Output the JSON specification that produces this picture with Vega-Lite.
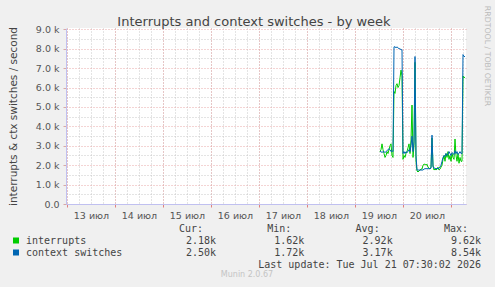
{
  "$schema": "https://vega.github.io/schema/vega-lite/v6.json",
  "background": "#F0F0F0",
  "padding": {"left": 8, "top": 5, "right": 4, "bottom": 9},
  "spacing": 3.5,
  "title": {"text": "RRDTOOL / TOBI OETIKER", "orient": "right", "anchor": "start", "frame": "bounds", "fontSize": 7.8, "fontWeight": "normal", "color": "#BBBBBB", "offset": 2, "dx": -10},
  "config": {
    "font": "DejaVu Sans",
    "view": {"stroke": null},
    "axis": {"labelFont": "DejaVu Sans", "labelFontSize": 9.5, "labelColor": "#555555", "titleFont": "DejaVu Sans", "titleFontWeight": "normal", "titleColor": "#444444"}
  },
  "datasets": {
    "stats": [
      {"series": "interrupts", "stat": "Cur", "text": "2.18k"},
      {"series": "interrupts", "stat": "Min", "text": "1.62k"},
      {"series": "interrupts", "stat": "Avg", "text": "2.92k"},
      {"series": "interrupts", "stat": "Max", "text": "9.62k"},
      {"series": "context switches", "stat": "Cur", "text": "2.50k"},
      {"series": "context switches", "stat": "Min", "text": "1.72k"},
      {"series": "context switches", "stat": "Avg", "text": "3.17k"},
      {"series": "context switches", "stat": "Max", "text": "8.54k"}
    ],
    "headers": [
      {"stat": "Cur", "text": "Cur:"},
      {"stat": "Min", "text": "Min:"},
      {"stat": "Avg", "text": "Avg:"},
      {"stat": "Max", "text": "Max:"}
    ],
    "names": [
      {"series": "interrupts"},
      {"series": "context switches"}
    ],
    "update": [
      {"text": "Last update: Tue Jul 21 07:30:02 2026"}
    ]
  },
  "vconcat": [
    {
      "width": 400,
      "height": 176,
      "view": {"fill": "#FFFFFF", "stroke": null},
      "title": {"text": "Interrupts and context switches - by week", "fontSize": 13, "fontWeight": "normal", "color": "#444444", "anchor": "middle", "frame": "group", "dx": -12, "dy": 4.5, "offset": 0},
      "data": {"values": [
        {"t": "2026-07-19T12:30:00Z", "interrupts": 2700, "context switches": 2700},
        {"t": "2026-07-19T13:00:00Z", "interrupts": 2800, "context switches": 2700},
        {"t": "2026-07-19T13:30:00Z", "interrupts": 3100, "context switches": 2650},
        {"t": "2026-07-19T14:00:00Z", "interrupts": 2800, "context switches": 2700},
        {"t": "2026-07-19T14:30:00Z", "interrupts": 2600, "context switches": 2700},
        {"t": "2026-07-19T15:00:00Z", "interrupts": 2400, "context switches": 2650},
        {"t": "2026-07-19T15:30:00Z", "interrupts": 2500, "context switches": 2700},
        {"t": "2026-07-19T16:00:00Z", "interrupts": 2700, "context switches": 2750},
        {"t": "2026-07-19T16:30:00Z", "interrupts": 2600, "context switches": 2800},
        {"t": "2026-07-19T17:00:00Z", "interrupts": 2800, "context switches": 2850},
        {"t": "2026-07-19T17:30:00Z", "interrupts": 3000, "context switches": 2800},
        {"t": "2026-07-19T18:00:00Z", "interrupts": 3100, "context switches": 2700},
        {"t": "2026-07-19T18:30:00Z", "interrupts": 2500, "context switches": 2750},
        {"t": "2026-07-19T19:00:00Z", "interrupts": 2400, "context switches": 2700},
        {"t": "2026-07-19T19:30:00Z", "interrupts": 5800, "context switches": 8100},
        {"t": "2026-07-19T20:00:00Z", "interrupts": 5700, "context switches": 8100},
        {"t": "2026-07-19T20:30:00Z", "interrupts": 6100, "context switches": 8050},
        {"t": "2026-07-19T21:00:00Z", "interrupts": 6200, "context switches": 8100},
        {"t": "2026-07-19T21:30:00Z", "interrupts": 6000, "context switches": 8050},
        {"t": "2026-07-19T22:00:00Z", "interrupts": 6100, "context switches": 8000},
        {"t": "2026-07-19T22:30:00Z", "interrupts": 6500, "context switches": 8000},
        {"t": "2026-07-19T23:00:00Z", "interrupts": 6900, "context switches": 7950},
        {"t": "2026-07-19T23:30:00Z", "interrupts": 6600, "context switches": 7950},
        {"t": "2026-07-20T00:00:00Z", "interrupts": 2300, "context switches": 2600},
        {"t": "2026-07-20T00:30:00Z", "interrupts": 2500, "context switches": 2700},
        {"t": "2026-07-20T01:00:00Z", "interrupts": 2400, "context switches": 2600},
        {"t": "2026-07-20T01:30:00Z", "interrupts": 2600, "context switches": 2700},
        {"t": "2026-07-20T02:00:00Z", "interrupts": 2700, "context switches": 2650},
        {"t": "2026-07-20T02:30:00Z", "interrupts": 2900, "context switches": 2700},
        {"t": "2026-07-20T03:00:00Z", "interrupts": 3100, "context switches": 2800},
        {"t": "2026-07-20T03:30:00Z", "interrupts": 2600, "context switches": 2700},
        {"t": "2026-07-20T04:00:00Z", "interrupts": 3300, "context switches": 3000},
        {"t": "2026-07-20T04:30:00Z", "interrupts": 5100, "context switches": 3500},
        {"t": "2026-07-20T05:00:00Z", "interrupts": 2400, "context switches": 2700},
        {"t": "2026-07-20T05:30:00Z", "interrupts": 3000, "context switches": 3200},
        {"t": "2026-07-20T06:00:00Z", "interrupts": 7300, "context switches": 7600},
        {"t": "2026-07-20T06:30:00Z", "interrupts": 2200, "context switches": 2500},
        {"t": "2026-07-20T07:00:00Z", "interrupts": 1700, "context switches": 1750},
        {"t": "2026-07-20T07:30:00Z", "interrupts": 1650, "context switches": 1750},
        {"t": "2026-07-20T08:00:00Z", "interrupts": 1700, "context switches": 1750},
        {"t": "2026-07-20T08:30:00Z", "interrupts": 1750, "context switches": 1750},
        {"t": "2026-07-20T09:00:00Z", "interrupts": 1800, "context switches": 1750},
        {"t": "2026-07-20T09:30:00Z", "interrupts": 1800, "context switches": 1750},
        {"t": "2026-07-20T10:00:00Z", "interrupts": 2000, "context switches": 1750},
        {"t": "2026-07-20T10:30:00Z", "interrupts": 2050, "context switches": 1800},
        {"t": "2026-07-20T11:00:00Z", "interrupts": 2050, "context switches": 1820},
        {"t": "2026-07-20T11:30:00Z", "interrupts": 2000, "context switches": 1820},
        {"t": "2026-07-20T12:00:00Z", "interrupts": 2050, "context switches": 1820},
        {"t": "2026-07-20T12:30:00Z", "interrupts": 1900, "context switches": 1820},
        {"t": "2026-07-20T13:00:00Z", "interrupts": 1850, "context switches": 1820},
        {"t": "2026-07-20T13:30:00Z", "interrupts": 1800, "context switches": 1820},
        {"t": "2026-07-20T14:00:00Z", "interrupts": 1900, "context switches": 1850},
        {"t": "2026-07-20T14:30:00Z", "interrupts": 3400, "context switches": 3550},
        {"t": "2026-07-20T15:00:00Z", "interrupts": 2000, "context switches": 1900},
        {"t": "2026-07-20T15:30:00Z", "interrupts": 1750, "context switches": 1850},
        {"t": "2026-07-20T16:00:00Z", "interrupts": 1800, "context switches": 1850},
        {"t": "2026-07-20T16:30:00Z", "interrupts": 1750, "context switches": 1800},
        {"t": "2026-07-20T17:00:00Z", "interrupts": 1800, "context switches": 1850},
        {"t": "2026-07-20T17:30:00Z", "interrupts": 1900, "context switches": 1800},
        {"t": "2026-07-20T18:00:00Z", "interrupts": 1750, "context switches": 1850},
        {"t": "2026-07-20T18:30:00Z", "interrupts": 1800, "context switches": 1900},
        {"t": "2026-07-20T19:00:00Z", "interrupts": 1900, "context switches": 2000},
        {"t": "2026-07-20T19:30:00Z", "interrupts": 2000, "context switches": 2200},
        {"t": "2026-07-20T20:00:00Z", "interrupts": 2300, "context switches": 2400},
        {"t": "2026-07-20T20:30:00Z", "interrupts": 2500, "context switches": 2500},
        {"t": "2026-07-20T21:00:00Z", "interrupts": 2200, "context switches": 2450},
        {"t": "2026-07-20T21:30:00Z", "interrupts": 2600, "context switches": 2600},
        {"t": "2026-07-20T22:00:00Z", "interrupts": 2400, "context switches": 2500},
        {"t": "2026-07-20T22:30:00Z", "interrupts": 2700, "context switches": 2550},
        {"t": "2026-07-20T23:00:00Z", "interrupts": 2300, "context switches": 2700},
        {"t": "2026-07-20T23:30:00Z", "interrupts": 2500, "context switches": 2600},
        {"t": "2026-07-21T00:00:00Z", "interrupts": 2200, "context switches": 2500},
        {"t": "2026-07-21T00:30:00Z", "interrupts": 2600, "context switches": 2650},
        {"t": "2026-07-21T01:00:00Z", "interrupts": 2400, "context switches": 2600},
        {"t": "2026-07-21T01:30:00Z", "interrupts": 2300, "context switches": 2550},
        {"t": "2026-07-21T02:00:00Z", "interrupts": 3350, "context switches": 2750},
        {"t": "2026-07-21T02:30:00Z", "interrupts": 2500, "context switches": 2600},
        {"t": "2026-07-21T03:00:00Z", "interrupts": 2200, "context switches": 2700},
        {"t": "2026-07-21T03:30:00Z", "interrupts": 2600, "context switches": 2550},
        {"t": "2026-07-21T04:00:00Z", "interrupts": 2100, "context switches": 2600},
        {"t": "2026-07-21T04:30:00Z", "interrupts": 2400, "context switches": 2700},
        {"t": "2026-07-21T05:00:00Z", "interrupts": 2200, "context switches": 2600},
        {"t": "2026-07-21T05:30:00Z", "interrupts": 2200, "context switches": 2600},
        {"t": "2026-07-21T06:00:00Z", "interrupts": 6600, "context switches": 7700},
        {"t": "2026-07-21T06:30:00Z", "interrupts": 6500, "context switches": 7600},
        {"t": "2026-07-21T07:00:00Z", "interrupts": 6550, "context switches": 7600}
      ]},
      "transform": [{"fold": ["interrupts", "context switches"], "as": ["series", "value"]}],
      "layer": [
        {
          "mark": {"type": "line", "opacity": 0},
          "encoding": {
            "x": {"field": "t", "type": "temporal",
              "scale": {"type": "utc", "domain": [1783899000000, 1784619000000]},
              "axis": {"orient": "bottom", "title": null, "labels": false, "ticks": false, "domain": false, "grid": true, "gridColor": "#C8C8C8", "gridDash": [1, 2],
                "values": [1783900800000, 1783922400000, 1783944000000, 1783965600000, 1783987200000, 1784008800000, 1784030400000, 1784052000000, 1784073600000, 1784095200000, 1784116800000, 1784138400000, 1784160000000, 1784181600000, 1784203200000, 1784224800000, 1784246400000, 1784268000000, 1784289600000, 1784311200000, 1784332800000, 1784354400000, 1784376000000, 1784397600000, 1784419200000, 1784440800000, 1784462400000, 1784484000000, 1784505600000, 1784527200000, 1784548800000, 1784570400000, 1784592000000, 1784613600000]}},
            "y": {"field": "value", "type": "quantitative",
              "scale": {"domain": [0, 9070], "nice": false, "zero": true},
              "axis": {"orient": "left", "title": null, "labels": false, "ticks": false, "domain": false, "grid": true, "gridColor": "#C8C8C8", "gridDash": [1, 2], "values": [500, 1500, 2500, 3500, 4500, 5500, 6500, 7500, 8500]}}
          }
        },
        {
          "mark": {"type": "line", "opacity": 0},
          "encoding": {
            "x": {"field": "t", "type": "temporal",
              "scale": {"type": "utc", "domain": [1783899000000, 1784619000000]},
              "axis": {"orient": "bottom", "title": null, "labels": false, "ticks": true, "tickSize": 3, "tickColor": "#E08080", "domain": true, "domainColor": "#C0C0F0", "grid": true, "gridColor": "#E8A8A8", "gridDash": [1, 2],
                "values": [1783900800000, 1783987200000, 1784073600000, 1784160000000, 1784246400000, 1784332800000, 1784419200000, 1784505600000, 1784592000000]}},
            "y": {"field": "value", "type": "quantitative",
              "scale": {"domain": [0, 9070], "nice": false, "zero": true},
              "axis": {"orient": "left", "title": "interrupts & ctx switches / second", "titleFontSize": 10.5, "titlePadding": 17, "labels": true, "labelPadding": 4, "ticks": true, "tickSize": 3, "tickColor": "#D8A8A8", "domain": true, "domainColor": "#C0C0F0", "grid": true, "gridColor": "#E8A8A8", "gridDash": [1, 2],
                "values": [0, 1000, 2000, 3000, 4000, 5000, 6000, 7000, 8000, 9000],
                "labelExpr": "datum.value == 0 ? '0.0' : format(datum.value / 1000, '.1f') + ' k'"}}
          }
        },
        {
          "mark": {"type": "line", "opacity": 0},
          "encoding": {
            "x": {"field": "t", "type": "temporal",
              "scale": {"type": "utc", "domain": [1783899000000, 1784619000000]},
              "axis": {"orient": "bottom", "title": null, "labels": true, "ticks": false, "domain": false, "grid": false, "labelPadding": 6,
                "values": [1783944000000, 1784030400000, 1784116800000, 1784203200000, 1784289600000, 1784376000000, 1784462400000, 1784548800000],
                "labelExpr": "utcFormat(datum.value, '%d') + ' июл'"}},
            "y": {"field": "value", "type": "quantitative",
              "scale": {"domain": [0, 9070], "nice": false, "zero": true},
              "axis": null}
          }
        },
        {
          "mark": {"type": "line", "strokeWidth": 1},
          "encoding": {
            "x": {"field": "t", "type": "temporal",
              "scale": {"type": "utc", "domain": [1783899000000, 1784619000000]},
              "axis": null},
            "y": {"field": "value", "type": "quantitative",
              "scale": {"domain": [0, 9070], "nice": false, "zero": true},
              "axis": null},
            "color": {"field": "series", "type": "nominal", "scale": {"domain": ["interrupts", "context switches"], "range": ["#00CC00", "#0066B3"]}, "legend": null}
          }
        }
      ],
      "resolve": {"axis": {"x": "independent", "y": "independent"}}
    },
    {
      "width": 400,
      "height": 36,
      "view": {"stroke": null},
      "title": {"text": "Munin 2.0.67", "orient": "bottom", "anchor": "middle", "frame": "group", "dx": -19, "fontSize": 8, "fontWeight": "normal", "color": "#C4C4C4", "offset": 1},
      "layer": [
        {
          "data": {"name": "headers"},
          "mark": {"type": "text", "font": "DejaVu Sans Mono", "fontSize": 10, "color": "#444444", "align": "right", "baseline": "middle", "dx": -13},
          "encoding": {
            "x": {"field": "stat", "type": "nominal", "scale": {"type": "point", "domain": ["Cur", "Min", "Avg", "Max"], "range": [150, 415], "padding": 0}, "axis": null},
            "y": {"datum": "header", "type": "nominal", "scale": {"type": "point", "domain": ["header", "interrupts", "context switches", "update"], "padding": 0}, "axis": null},
            "text": {"field": "text"}
          }
        },
        {
          "data": {"name": "stats"},
          "mark": {"type": "text", "font": "DejaVu Sans Mono", "fontSize": 10, "color": "#444444", "align": "right", "baseline": "middle"},
          "encoding": {
            "x": {"field": "stat", "type": "nominal", "scale": {"type": "point", "domain": ["Cur", "Min", "Avg", "Max"], "range": [150, 415], "padding": 0}, "axis": null},
            "y": {"field": "series", "type": "nominal", "scale": {"type": "point", "domain": ["header", "interrupts", "context switches", "update"], "padding": 0}, "axis": null},
            "text": {"field": "text"}
          }
        },
        {
          "data": {"name": "update"},
          "mark": {"type": "text", "font": "DejaVu Sans Mono", "fontSize": 10, "color": "#444444", "align": "right", "baseline": "middle"},
          "encoding": {
            "x": {"datum": "Max", "type": "nominal", "scale": {"type": "point", "domain": ["Cur", "Min", "Avg", "Max"], "range": [150, 415], "padding": 0}, "axis": null},
            "y": {"datum": "update", "type": "nominal", "scale": {"type": "point", "domain": ["header", "interrupts", "context switches", "update"], "padding": 0}, "axis": null},
            "text": {"field": "text"}
          }
        },
        {
          "data": {"name": "names"},
          "mark": {"type": "text", "font": "DejaVu Sans Mono", "fontSize": 10, "color": "#444444", "align": "left", "baseline": "middle"},
          "encoding": {
            "x": {"datum": "name", "type": "nominal", "scale": {"type": "point", "domain": ["swatch", "name"], "range": [-50, -40], "padding": 0}, "axis": null},
            "y": {"field": "series", "type": "nominal", "scale": {"type": "point", "domain": ["header", "interrupts", "context switches", "update"], "padding": 0}, "axis": null},
            "text": {"field": "series"}
          }
        },
        {
          "data": {"name": "names"},
          "mark": {"type": "square", "filled": true, "opacity": 1, "size": 36},
          "encoding": {
            "x": {"datum": "swatch", "type": "nominal", "scale": {"type": "point", "domain": ["swatch", "name"], "range": [-50, -40], "padding": 0}, "axis": null},
            "y": {"field": "series", "type": "nominal", "scale": {"type": "point", "domain": ["header", "interrupts", "context switches", "update"], "padding": 0}, "axis": null},
            "color": {"field": "series", "type": "nominal", "scale": {"domain": ["interrupts", "context switches"], "range": ["#00CC00", "#0066B3"]}, "legend": null}
          }
        }
      ],
      "resolve": {"scale": {"x": "independent"}}
    }
  ]
}
